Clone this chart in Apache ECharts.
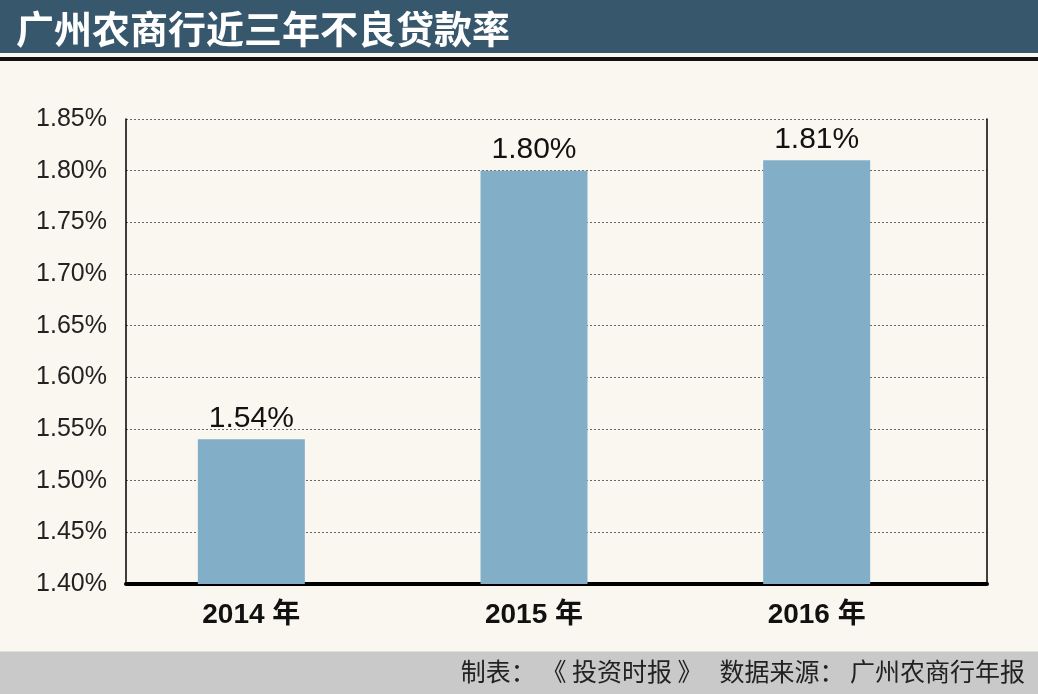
<!DOCTYPE html>
<html>
<head>
<meta charset="utf-8">
<script src="https://cdn.jsdelivr.net/npm/echarts@6/dist/echarts.min.js"></script>
<style>
html,body{margin:0;padding:0;background:#faf7f0;}
#chart{width:1038px;height:694px;}
</style>
</head>
<body>
<div id="chart"></div>
<script>
const titleText = '广州农商行近三年不良贷款率';
const footerText = '制表： 《 投资时报 》   数据来源： 广州农商行年报';
const categories = ['2014 年', '2015 年', '2016 年'];
const nplRates = [1.54, 1.80, 1.81];
const yMin = 1.40, yMax = 1.85, yStep = 0.05;

const chart = echarts.init(document.getElementById('chart'));
const numFont = '"Liberation Sans", Arial, sans-serif';
const cjkFont = '"Liberation Sans", "Noto Sans CJK SC", sans-serif';

chart.setOption({
  backgroundColor: '#faf7f0',
  animation: false,
  title: {
    text: titleText,
    left: 11, top: 5,
    textStyle: { color: '#ffffff', fontSize: 38, fontWeight: 'bold', fontFamily: '"Noto Sans CJK SC", sans-serif' }
  },
  graphic: [
    { type: 'rect', left: 0, top: 0, z: -10, shape: { width: 1038, height: 53 }, style: { fill: '#37576d' } },
    { type: 'rect', left: 0, top: 57, z: -10, shape: { width: 1038, height: 4 }, style: { fill: '#111' } },
    { type: 'rect', left: 0, top: 651, z: -10, shape: { width: 1038, height: 1 }, style: { fill: '#dfe1e0' } },
    { type: 'rect', left: 0, top: 652, z: -10, shape: { width: 1038, height: 42 }, style: { fill: '#c8c9c8' } },
    { type: 'text', right: 13, top: 659, style: { text: footerText, fill: '#222', font: '25px "Noto Sans CJK SC", sans-serif' } }
  ],
  grid: [
    { left: 126, right: 51, top: 119, bottom: 110 },
    { left: 110, right: 80, top: 119, bottom: 110 }
  ],
  xAxis: [
    { type: 'category', gridIndex: 0, data: categories,
      axisLine: { show: true, lineStyle: { color: '#000', width: 4 } },
      axisTick: { show: false }, axisLabel: { show: false }, splitLine: { show: false } },
    { type: 'category', gridIndex: 1, data: categories,
      axisLine: { show: false }, axisTick: { show: false },
      axisLabel: { color: '#111', fontSize: 28, fontWeight: 'bold', margin: 17, fontFamily: cjkFont } }
  ],
  yAxis: [
    { type: 'value', gridIndex: 0, min: yMin, max: yMax, interval: yStep,
      axisLine: { show: true, lineStyle: { color: '#000', width: 1.5 } },
      axisTick: { show: false },
      axisLabel: { color: '#222', fontSize: 25, margin: 19, fontFamily: numFont,
        formatter: v => v.toFixed(2) + '%' },
      splitLine: { show: true, lineStyle: { color: '#666', type: [2, 2], width: 1 } } },
    { type: 'value', gridIndex: 0, position: 'right', min: yMin, max: yMax, interval: yStep,
      axisLine: { show: true, lineStyle: { color: '#000', width: 1.5 } },
      axisTick: { show: false }, axisLabel: { show: false }, splitLine: { show: false } },
    { type: 'value', gridIndex: 1, min: yMin, max: yMax, interval: yStep, show: false,
      splitLine: { show: false } }
  ],
  series: [{
    type: 'bar',
    xAxisIndex: 1, yAxisIndex: 2,
    data: nplRates,
    barWidth: 107,
    itemStyle: { color: '#82afc7' },
    label: { show: true, position: 'top', distance: 6, color: '#111', fontSize: 30,
      fontFamily: numFont, formatter: p => p.value.toFixed(2) + '%' }
  }]
});
</script>
</body>
</html>
